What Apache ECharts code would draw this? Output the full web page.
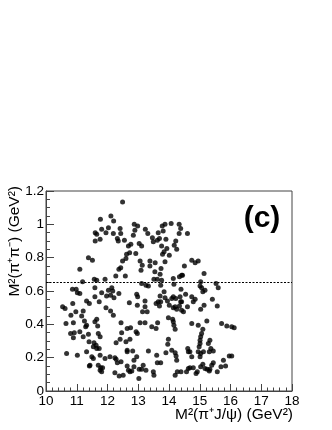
<!DOCTYPE html>
<html>
<head>
<meta charset="utf-8">
<script src="https://cdn.jsdelivr.net/npm/echarts@6/dist/echarts.min.js"></script>
<style>
  html, body { margin: 0; padding: 0; background: #fff; }
  #chart { width: 332px; height: 430px; }
</style>
</head>
<body>
<div id="chart"></div>
<script>
// M2(pi+ J/psi) vs M2(pi+ pi-), GeV^2
var highBand = [
  [12.49,1.134],[12.11,1.05],[12.2,1.02],[11.77,1.03],[11.81,0.97],[11.6,0.95],[11.65,0.94],[11.6,0.90],
  [11.76,0.91],[11.95,0.95],[12.03,0.98],[12.19,0.945],[12.41,0.975],[12.43,0.945],[12.32,0.915],[12.35,0.90],
  [12.55,0.905],[12.68,0.87],[12.76,0.88],[12.87,1.0],[12.98,0.99],[12.89,0.965],[12.84,0.935],[13.03,0.885],
  [13.11,0.87],[13.23,0.97],[13.31,0.945],[13.46,0.92],[13.49,0.895],[13.62,0.905],[13.69,0.915],[13.65,0.95],
  [13.78,0.99],[13.87,1.0],[14.07,1.005],[13.81,0.96],[13.9,0.91],[13.76,0.87],[14.33,1.0],[14.38,0.975],
  [14.33,0.945],[14.6,0.945],[14.22,0.90],[14.17,0.875],[14.25,0.85],[12.62,0.82],[12.72,0.83],[12.92,0.825],
  [13.79,0.82],[13.84,0.835],[14.01,0.815],[13.93,0.855],[11.38,0.80]
];
var midBand = [
  [12.6,0.795],[12.49,0.78],[12.43,0.74],[12.37,0.73],[12.27,0.69],[12.58,0.69],[13.06,0.78],[13.13,0.755],
  [13.09,0.725],[13.38,0.78],[13.38,0.75],[13.55,0.77],[13.54,0.715],[13.74,0.735],[13.71,0.70],[13.51,0.67],
  [13.62,0.67],[13.76,0.665],[14.14,0.675],[14.34,0.685],[14.44,0.695],[14.5,0.75],[11.1,0.73],[11.51,0.785],
  [11.19,0.655],[11.57,0.67],[11.65,0.665],[11.92,0.67],[11.59,0.62],[13.87,0.775],[14.74,0.785],[14.85,0.77],
  [14.95,0.78],[15.14,0.705],[15.03,0.655],[15.53,0.645],[15.6,0.62],[15.06,0.62],[15.1,0.595],[14.41,0.695],
  [13.73,0.635],[14.16,0.64],[15.01,0.63],[15.17,0.605],[14.39,0.61],[13.84,0.595],
  [10.86,0.61],[10.98,0.61],[11.02,0.59],[11.1,0.585],[11.81,0.59],[12.03,0.605],[12.14,0.62],[12.17,0.60],
  [12.37,0.585],[12.1,0.575],[11.97,0.57],[12.21,0.56],[11.59,0.565],[13.11,0.645],[13.25,0.635],[13.33,0.63],
  [12.95,0.58],[12.98,0.565]
];
var lowMidBand = [
  [14.74,0.565],[14.85,0.55],[15.41,0.55],[14.41,0.535],[14.6,0.505],[15.14,0.515],[15.03,0.49],[15.57,0.51],
  [13.71,0.57],[14.14,0.565],[14.22,0.555],[14.54,0.58],[14.79,0.535],[13.95,0.54],[14.38,0.535],[13.73,0.535],
  [14.14,0.50],[14.25,0.49],[11.32,0.54],[10.54,0.505],[10.62,0.495],[10.87,0.525],[11.41,0.525],[11.73,0.535],
  [11.95,0.50],[12.71,0.53],[13.65,0.535],[13.58,0.525],[13.22,0.54],[12.97,0.515],
  [10.65,0.405],[10.81,0.455],[10.97,0.475],[10.89,0.41],[11.16,0.45],[11.21,0.48],[11.25,0.42],[11.29,0.385],
  [11.32,0.395],[11.59,0.415],[11.65,0.43],[11.68,0.39],[12.44,0.41],[13.22,0.41],[13.06,0.41],[13.29,0.475],
  [13.14,0.475],[13.44,0.385],[13.58,0.375],[13.63,0.41],[12.64,0.375],[12.75,0.38],[12.19,0.455],[12.1,0.48],
  [13.22,0.505],[13.69,0.51],[13.87,0.56],[14.01,0.515],[14.09,0.555],[14.2,0.505],[14.34,0.51],[14.41,0.485],
  [14.47,0.475],[14.36,0.565],[14.12,0.43],[14.14,0.415],[14.16,0.395],[14.2,0.37],[13.98,0.44],
  [14.74,0.405],[14.95,0.395],[15.23,0.42],[15.71,0.405],[15.88,0.39],[16.04,0.385],[16.12,0.38],[15.1,0.37]
];
var lowBand = [
  [10.67,0.225],[10.8,0.345],[10.89,0.32],[10.92,0.35],[11.02,0.215],[11.1,0.355],[11.21,0.325],[11.32,0.235],
  [11.38,0.34],[11.4,0.295],[11.41,0.15],[11.56,0.29],[11.63,0.275],[11.65,0.255],[11.54,0.265],[11.7,0.345],
  [11.76,0.325],[11.73,0.255],[11.76,0.215],[11.49,0.205],[11.54,0.195],[11.43,0.155],[11.7,0.155],[11.76,0.125],
  [11.78,0.14],[11.84,0.14],[11.81,0.115],[11.92,0.195],[12.08,0.205],[12.24,0.20],[12.32,0.17],[12.28,0.19],
  [12.44,0.175],[12.24,0.11],[12.38,0.09],[12.51,0.095],[12.28,0.29],[12.41,0.31],[12.46,0.35],[12.64,0.15],
  [12.68,0.125],[12.73,0.115],[12.64,0.245],[12.64,0.235],[12.82,0.24],[12.79,0.12],[12.86,0.145],[12.95,0.205],
  [12.86,0.185],[13.03,0.13],[13.02,0.075],[13.11,0.13],[13.25,0.125],[13.16,0.155],[13.33,0.24],[13.49,0.115],
  [13.51,0.095],[13.6,0.215],[13.73,0.17],[13.62,0.17],[13.9,0.23],[13.98,0.31],[13.96,0.28],[14.09,0.245],
  [14.2,0.23],[14.23,0.21],[14.25,0.185],[14.2,0.095],[14.27,0.115],[14.39,0.115],[14.57,0.115],[14.63,0.135],
  [14.61,0.255],[14.63,0.235],[12.93,0.355],[12.97,0.345],[12.73,0.31],[12.6,0.295],
  [15.03,0.325],[15.01,0.305],[15.33,0.305],[15.28,0.285],[15.01,0.285],[14.98,0.265],[14.68,0.235],[14.95,0.235],
  [15.03,0.225],[15.01,0.205],[15.12,0.235],[15.36,0.255],[15.44,0.24],[15.31,0.235],[14.74,0.205],[15.77,0.185],
  [15.96,0.21],[16.04,0.21],[14.68,0.14],[14.79,0.14],[14.88,0.105],[14.92,0.115],[15.03,0.145],[15.1,0.16],
  [15.17,0.135],[15.24,0.13],[15.33,0.13],[15.39,0.155],[15.44,0.17],[15.31,0.12],[15.57,0.115],[15.69,0.145],
  [15.84,0.15],[15.06,0.345]
];
var cutValue = 0.65;
var xRange = [10, 18];
var yRange = [0, 1.2];

var font = 'Liberation Sans, Arial, Helvetica, sans-serif';
var myChart = echarts.init(document.getElementById('chart'), null, { renderer: 'canvas' });

var option = {
  animation: false,
  backgroundColor: '#fff',
  grid: {
    left: 46, right: 40, top: 191, bottom: 39,
    show: true, borderColor: '#444', borderWidth: 1
  },
  xAxis: {
    type: 'value',
    min: xRange[0], max: xRange[1], interval: 1,
    axisLine: { lineStyle: { color: '#444', width: 1 } },
    axisTick: { inside: true, length: 7, lineStyle: { color: '#444' } },
    minorTick: { show: true, splitNumber: 5, length: 3.5, lineStyle: { color: '#444' } },
    axisLabel: { color: '#000', fontSize: 13.5, fontFamily: font, margin: 3 },
    splitLine: { show: false }
  },
  yAxis: {
    type: 'value',
    min: yRange[0], max: yRange[1], interval: 0.2,
    axisLine: { lineStyle: { color: '#444', width: 1 } },
    axisTick: { inside: true, length: 8, lineStyle: { color: '#444' } },
    minorTick: { show: true, splitNumber: 4, length: 4, lineStyle: { color: '#444' } },
    axisLabel: { color: '#000', fontSize: 13.5, fontFamily: font, margin: 2 },
    splitLine: { show: false }
  },
  graphic: [
    {
      type: 'text', x: 15, y: 186, rotation: Math.PI / 2,
      style: {
        text: 'M²(π⁺π⁻) (GeV²)', fill: '#000', font: '15.5px ' + font,
        textAlign: 'right', textVerticalAlign: 'middle'
      }
    },
    {
      type: 'text', x: 293, y: 415,
      style: {
        text: 'M²(π⁺J/ψ) (GeV²)', fill: '#000', font: '15.5px ' + font,
        textAlign: 'right', textVerticalAlign: 'middle'
      }
    },
    {
      type: 'text', x: 262, y: 219,
      style: {
        text: '(c)', fill: '#000', font: 'bold 30px ' + font,
        textAlign: 'center', textVerticalAlign: 'middle'
      }
    }
  ],
  series: [
    {
      type: 'scatter',
      symbol: 'circle',
      symbolSize: 5,
      itemStyle: { color: '#000' },
      data: highBand.concat(midBand, lowMidBand, lowBand),
      markLine: {
        silent: true,
        symbol: 'none',
        label: { show: false },
        lineStyle: { color: '#000', type: [2, 1.5], width: 1 },
        data: [{ yAxis: cutValue }]
      }
    }
  ]
};

myChart.setOption(option);
window.addEventListener('resize', function () { myChart.resize(); });
</script>
</body>
</html>
